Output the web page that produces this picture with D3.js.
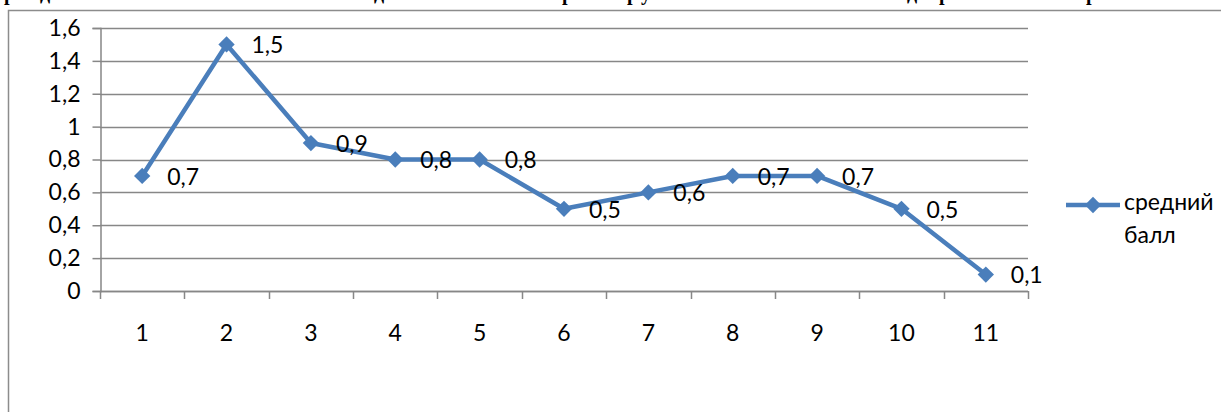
<!DOCTYPE html>
<html><head><meta charset="utf-8">
<script src="https://cdn.jsdelivr.net/npm/d3@7"></script>
<style>body{margin:0;background:#fff;overflow:hidden}svg{display:block}</style>
</head><body>
<svg id="c" width="1221" height="412"></svg>
<script>
const categories = ["1","2","3","4","5","6","7","8","9","10","11"];
const values = [0.7,1.5,0.9,0.8,0.8,0.5,0.6,0.7,0.7,0.5,0.1];
const yTicks = [0,0.2,0.4,0.6,0.8,1,1.2,1.4,1.6];
const seriesName = ["средний","балл"];
const titleFragments = [["р",4],["д",40],["д",374],["р",562],["р",627],["у",641],["д",907],["р",939],["р",1086]];

const svg = d3.select("#c");
const FONT = "Lato, 'Open Sans', sans-serif";
const FS = 23;
const blue = "#4a7ebb", grid = "#878787";

// clipped title fragments (top of the page)
svg.append("g").selectAll("text").data(titleFragments).join("text")
  .attr("x", d => d[1]).attr("y", 0)
  .attr("font-family", "'Liberation Serif', serif").attr("font-weight", "bold")
  .attr("font-size", 20).text(d => d[0]);

// chart frame
svg.append("path").attr("d", "M8.5,412 L8.5,10.5 L1221,10.5")
  .attr("fill", "none").attr("stroke", "#8c8c8c").attr("stroke-width", 1.5);

const x = d3.scaleBand().domain(categories).range([100, 1028]).padding(0);
const y = d3.scaleLinear().domain([0, 1.6]).range([291, 28]);
const fmt = v => d3.format("~g")(v).replace(".", ",");

// gridlines
svg.append("g").selectAll("line").data(yTicks).join("line")
  .attr("x1", 100).attr("x2", 1028)
  .attr("y1", d => Math.round(y(d)) + 0.5).attr("y2", d => Math.round(y(d)) + 0.5)
  .attr("stroke", grid).attr("stroke-width", 1.5);

// y axis
const yAxis = svg.append("g").attr("transform", "translate(100.5,0)")
  .call(d3.axisLeft(y).tickValues(yTicks).tickSize(8).tickPadding(12).tickFormat(fmt));
yAxis.select(".domain").attr("stroke", grid).attr("stroke-width", 1.5);
yAxis.selectAll(".tick line").attr("stroke", grid).attr("stroke-width", 1.5);
yAxis.selectAll("text").attr("font-family", FONT).attr("font-size", FS).attr("fill", "#000");

// x axis (labels at centers, ticks at boundaries)
const xAxis = svg.append("g").attr("transform", "translate(0,291.5)")
  .call(d3.axisBottom(x).tickSize(0).tickPadding(33));
xAxis.select(".domain").remove();
xAxis.selectAll("text").attr("font-family", FONT).attr("font-size", FS).attr("fill", "#000");
const bounds = categories.map(c => x(c)).concat([x.range()[1]]);
svg.append("line").attr("x1", 100).attr("x2", 1028).attr("y1", 291.5).attr("y2", 291.5)
  .attr("stroke", grid).attr("stroke-width", 1.5);
svg.append("g").selectAll("line").data(bounds).join("line")
  .attr("x1", d => Math.round(d) + 0.5).attr("x2", d => Math.round(d) + 0.5)
  .attr("y1", 291).attr("y2", 299).attr("stroke", grid).attr("stroke-width", 1.5);

// series
const cx = (d, i) => x(categories[i]) + x.bandwidth() / 2;
const line = d3.line().x((d, i) => cx(d, i)).y(d => y(d));
svg.append("path").datum(values).attr("d", line)
  .attr("fill", "none").attr("stroke", blue).attr("stroke-width", 4.5).attr("stroke-linejoin", "round");
const diamond = d3.symbol().type(d3.symbolDiamond2).size(170);
svg.append("g").selectAll("path").data(values).join("path")
  .attr("d", diamond).attr("transform", (d, i) => `translate(${cx(d, i)},${y(d)})`)
  .attr("fill", blue);
svg.append("g").selectAll("text").data(values).join("text")
  .attr("x", (d, i) => cx(d, i) + 25).attr("y", d => y(d) + 3)
  .attr("dominant-baseline", "middle")
  .attr("font-family", FONT).attr("font-size", FS).attr("fill", "#000").text(fmt);

// legend
const lg = svg.append("g");
lg.append("line").attr("x1", 1066).attr("x2", 1120).attr("y1", 205).attr("y2", 205)
  .attr("stroke", blue).attr("stroke-width", 4.5);
lg.append("path").attr("d", diamond).attr("transform", "translate(1093,205)").attr("fill", blue);
lg.selectAll("text").data(seriesName).join("text")
  .attr("x", 1124).attr("y", (d, i) => 204 + i * 33).attr("dominant-baseline", "middle")
  .attr("font-family", FONT).attr("font-size", FS).attr("fill", "#000").text(d => d);
</script>
</body></html>
